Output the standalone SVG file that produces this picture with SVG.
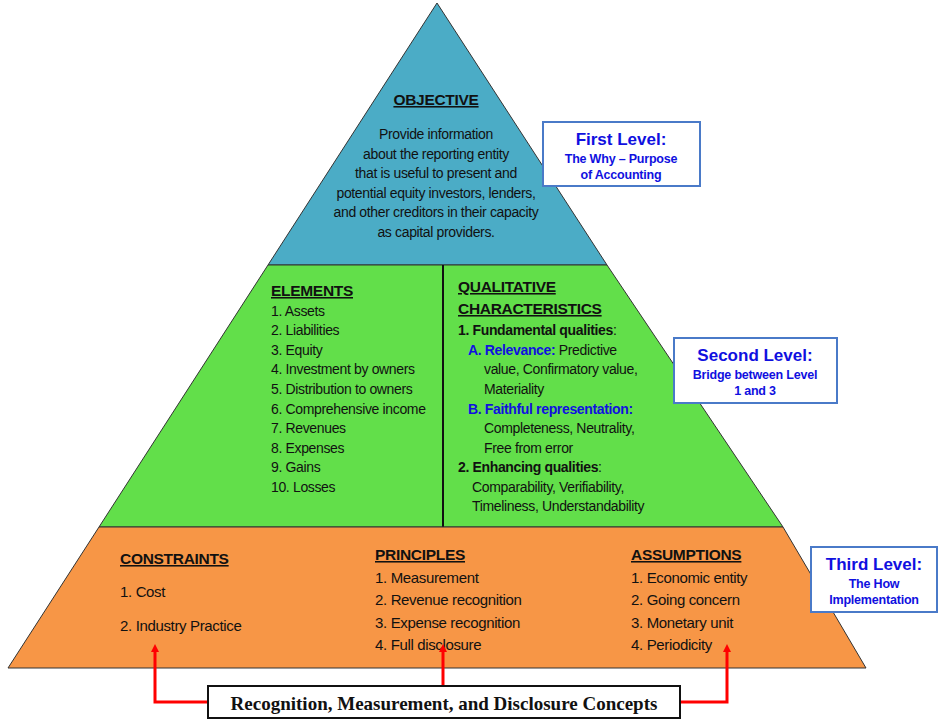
<svg xmlns="http://www.w3.org/2000/svg" width="938" height="720" viewBox="0 0 938 720">
<style>
.t{font-family:"Liberation Sans",Arial,sans-serif;font-size:14px;fill:#111;letter-spacing:-0.35px}
.h{font-family:"Liberation Sans",Arial,sans-serif;font-size:15.5px;font-weight:bold;fill:#111;text-decoration:underline;letter-spacing:-0.3px}
.b{font-weight:bold}
.bl{fill:#1010e0;font-weight:bold}
.lv{fill:#fff;stroke:#4a7ac8;stroke-width:2}
.l1{font-family:"Liberation Sans",Arial,sans-serif;font-size:17px;font-weight:bold;fill:#1010e0;text-anchor:middle}
.l2{font-family:"Liberation Sans",Arial,sans-serif;font-size:12.5px;font-weight:bold;fill:#1010e0;text-anchor:middle;letter-spacing:-0.2px}
.red{stroke:#ff0000;stroke-width:3;fill:none}
</style>
<defs><marker id="ah" markerWidth="8" markerHeight="8" refX="4" refY="4" orient="auto" markerUnits="userSpaceOnUse"><path d="M0,0 L8,4 L0,8 z" fill="#ff0000"/></marker></defs>
<rect width="938" height="720" fill="#fff"/>
<g id="top">
<polygon points="437,3 268,265 607,265" fill="#4bacc6" stroke="#333" stroke-width="1"/>
<text class="h" x="436" y="105" text-anchor="middle">OBJECTIVE</text>
<text class="t" text-anchor="middle" x="436"><tspan x="436" y="139">Provide information</tspan><tspan x="436" y="159">about the reporting entity</tspan><tspan x="436" y="178">that is useful to present and</tspan><tspan x="436" y="198">potential equity investors, lenders,</tspan><tspan x="436" y="217">and other creditors in their capacity</tspan><tspan x="436" y="237">as capital providers.</tspan></text>
</g>
<g id="middle">
<polygon points="268,265 607,265 783,527 99,527" fill="#62df4a" stroke="#333" stroke-width="1"/>
<line x1="443" y1="265" x2="443" y2="527" stroke="#111" stroke-width="2"/>
<text class="h" x="271" y="296">ELEMENTS</text>
<text class="t"><tspan x="271" y="316">1. Assets</tspan><tspan x="271" y="335">2. Liabilities</tspan><tspan x="271" y="355">3. Equity</tspan><tspan x="271" y="374">4. Investment by owners</tspan><tspan x="271" y="394">5. Distribution to owners</tspan><tspan x="271" y="414">6. Comprehensive income</tspan><tspan x="271" y="433">7. Revenues</tspan><tspan x="271" y="453">8. Expenses</tspan><tspan x="271" y="472">9. Gains</tspan><tspan x="271" y="492">10. Losses</tspan></text>
<text class="h" x="458" y="292">QUALITATIVE</text>
<text class="h" x="458" y="314">CHARACTERISTICS</text>
<text class="t"><tspan x="458" y="335" class="b">1. Fundamental qualities</tspan><tspan>:</tspan><tspan x="468" y="355" class="bl">A. Relevance:</tspan><tspan> Predictive</tspan><tspan x="484" y="374">value, Confirmatory value,</tspan><tspan x="484" y="394">Materiality</tspan><tspan x="468" y="414" class="bl">B. Faithful representation:</tspan><tspan x="484" y="433">Completeness, Neutrality,</tspan><tspan x="484" y="453">Free from error</tspan><tspan x="458" y="472" class="b">2. Enhancing qualities</tspan><tspan>:</tspan><tspan x="472" y="492">Comparability, Verifiability,</tspan><tspan x="472" y="511">Timeliness, Understandability</tspan></text>
</g>
<g id="bottom">
<polygon points="99,527 783,527 866,668 8,668" fill="#f79646" stroke="#333" stroke-width="1"/>
<text class="h" x="120" y="564">CONSTRAINTS</text>
<text class="t" font-size="15"><tspan x="120" y="597" font-size="15">1.  Cost</tspan><tspan x="120" y="631" font-size="15">2.  Industry Practice</tspan></text>
<text class="h" x="375" y="560">PRINCIPLES</text>
<text class="t"><tspan x="375" y="583" font-size="15">1.  Measurement</tspan><tspan x="375" y="605" font-size="15">2.  Revenue recognition</tspan><tspan x="375" y="628" font-size="15">3.  Expense recognition</tspan><tspan x="375" y="650" font-size="15">4.  Full disclosure</tspan></text>
<text class="h" x="631" y="560">ASSUMPTIONS</text>
<text class="t"><tspan x="631" y="583" font-size="15">1.  Economic entity</tspan><tspan x="631" y="605" font-size="15">2.  Going concern</tspan><tspan x="631" y="628" font-size="15">3.  Monetary unit</tspan><tspan x="631" y="650" font-size="15">4.  Periodicity</tspan></text>
</g>
<g id="level1"><rect class="lv" x="543" y="122" width="157" height="64"/><text class="l1" x="621" y="145">First Level:</text><text class="l2" x="621" y="163">The Why – Purpose</text><text class="l2" x="621" y="179">of Accounting</text></g>
<g id="level2"><rect class="lv" x="674" y="338" width="163" height="65"/><text class="l1" x="755" y="361">Second Level:</text><text class="l2" x="755" y="379">Bridge between Level</text><text class="l2" x="755" y="395">1 and 3</text></g>
<g id="level3"><rect class="lv" x="811" y="547" width="126" height="65"/><text class="l1" x="874" y="570">Third Level:</text><text class="l2" x="874" y="588">The How</text><text class="l2" x="874" y="604">Implementation</text></g>
<g id="connectors">
<polyline class="red" points="208,702 155,702 155,648" marker-end="url(#ah)"/>
<polyline class="red" points="443,686 443,648" marker-end="url(#ah)"/>
<polyline class="red" points="680,702 727,702 727,648" marker-end="url(#ah)"/>
</g>
<g id="concepts"><rect x="208" y="686" width="472" height="32" fill="#fff" stroke="#111" stroke-width="2"/><text x="444" y="710" text-anchor="middle" font-family="Liberation Serif,serif" font-size="19" font-weight="bold" fill="#111">Recognition, Measurement, and Disclosure Concepts</text></g>
</svg>
